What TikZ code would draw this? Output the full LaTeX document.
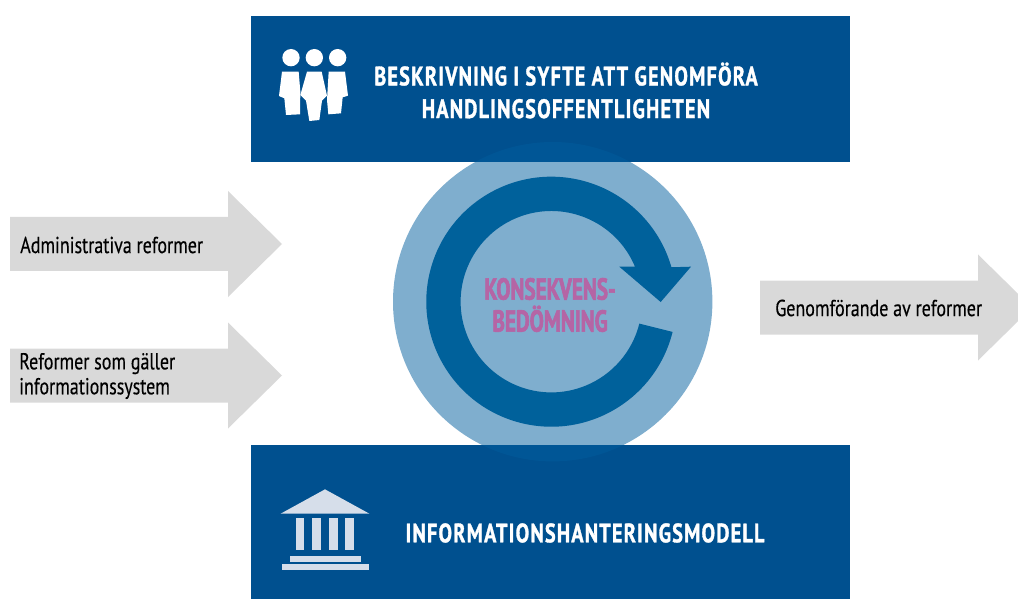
\documentclass[tikz,border=0pt]{standalone}
\usepackage{fontspec}
\usepackage{xcolor}
\usetikzlibrary{positioning}
\usetikzlibrary{calc}
\setmainfont[FakeStretch=0.78,FakeBold=0.3]{PT Sans}
\newfontfamily\headfont[FakeStretch=0.76,LetterSpace=4.5,FakeBold=1.2]{PT Sans Bold}
\newfontfamily\midfont[FakeStretch=0.70,FakeBold=2]{PT Sans Bold}
\definecolor{boxblue}{HTML}{00508F}
\definecolor{circblue}{HTML}{005D9D}
\definecolor{ringblue}{HTML}{00619B}
\definecolor{arrowgrey}{HTML}{D9D9D9}
\definecolor{iconpale}{HTML}{D6DEEA}
\definecolor{midpink}{HTML}{B565A5}
\tikzstyle{bandbox}=[fill=boxblue]
\tikzstyle{greyarrow}=[fill=arrowgrey]
\tikzstyle{headlabel}=[text=white,font=\headfont\fontsize{20}{24.5}\selectfont,align=center,inner sep=0pt]
\tikzstyle{sidelabel}=[text=black,font=\fontsize{17.3}{18.7}\selectfont,align=left,inner sep=0pt,anchor=west]
\tikzstyle{midlabel}=[text=midpink,font=\midfont\fontsize{22.7}{24}\selectfont,align=center,inner sep=0pt]
\tikzset{zoomed/.style={x=0.25pt,y=-0.25pt}}

\begin{document}
\begin{tikzpicture}[x=0.75pt,y=0.75pt]
 \useasboundingbox (0,0) rectangle (1018,-599);

 %bands
 \fill[bandbox] (251,-16) rectangle (850,-162);
 \fill[bandbox] (251,-445) rectangle (850,-599);

 %arrows
 \foreach \x/\y in {10/-244, 10/-375.5, 760/-307.5}
   \fill[greyarrow] (\x,\y+27) -- ++(218,0) -- ++(0,26) -- ++(54,-53) -- ++(-54,-53) -- ++(0,26) -- ++(-218,0) -- cycle;

 %circle
 \fill[circblue,opacity=0.5] (552.7,-301.7) circle (159.7);

 %ring
 \def\cx{551.3};
 \def\cy{-301.7};
 \fill[ringblue] ($(\cx,\cy)+(-14:125)$) arc[start angle=-14,end angle=-344,radius=125]
    -- (691,-266.7) -- (660.7,-302) -- (619.3,-266.7) -- (635,-266.7)
    arc[start angle=22.7,end angle=346,radius=90.7] -- cycle;

 %people
 \begin{scope}[shift={(251,-20)},zoomed]
   \foreach \x in {120,190,260}
     \fill[white] (\x,113) circle (26);
   \fill[white] (93,155) -- (143,155) -- (148,215) -- (147,283) -- (105,285) -- (100,235) -- (84,228) -- cycle;
   \fill[white] (168,155) -- (212,155) -- (228,227) -- (213,242) -- (205,300) -- (175,303) -- (165,242) -- (148,225) -- cycle;
   \fill[white] (233,155) -- (282,155) -- (291,227) -- (275,232) -- (270,280) -- (232,283) -- (228,240) -- cycle;
 \end{scope}

 %temple
 \begin{scope}[shift={(260,-470)},zoomed]
   \fill[iconpale] (62,131) -- (195,58) -- (328,131) -- cycle;
   \foreach \x/\w in {107/26, 157/27, 208/27, 256/27}
     \fill[iconpale] (\x,145) rectangle (\x+\w,240);
   \fill[iconpale] (90,257) rectangle (303,276);
   \fill[iconpale] (65,282) rectangle (328,299);
 \end{scope}

 %texts
 \node[headlabel] (topband) at (566,-90.5) {BESKRIVNING I SYFTE ATT GENOMFÖRA\\HANDLINGSOFFENTLIGHETEN};
 \node[headlabel] (lowband) at (585,-533) {INFORMATIONSHANTERINGSMODELL};
 \node[midlabel] (middle) at (550,-305) {KONSEKVENS-\\BEDÖMNING};
 \node[sidelabel] (admin) at (20,-245) {Administrativa reformer};
 \node[sidelabel] (system) at (19,-376) {Reformer som gäller\\informationssystem};
 \node[sidelabel] (result) at (775,-308) {Genomförande av reformer};
\end{tikzpicture}
\end{document}
